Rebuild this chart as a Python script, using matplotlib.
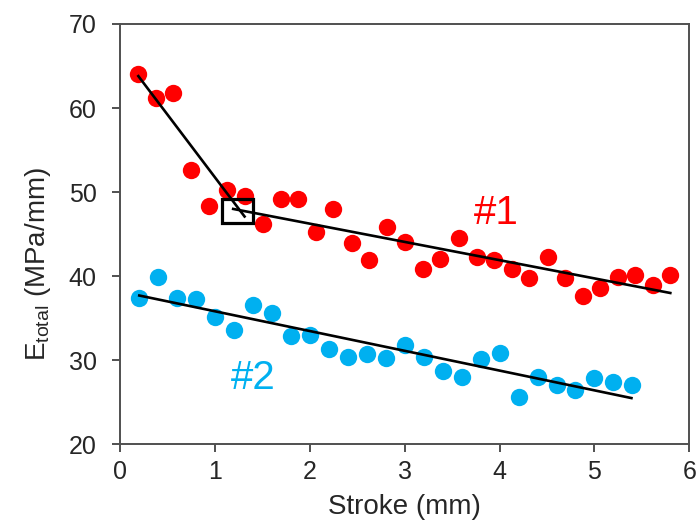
import matplotlib
matplotlib.use('Agg')
import matplotlib.pyplot as plt
from matplotlib.patches import Rectangle

plt.rcParams['font.family'] = ['Liberation Sans', 'DejaVu Sans']
plt.rcParams['mathtext.fontset'] = 'custom'
plt.rcParams['mathtext.rm'] = 'Liberation Sans'

# sample #1 (red)
stroke1 = [0.19, 0.38, 0.56, 0.75, 0.94, 1.13, 1.31, 1.50, 1.69, 1.87, 2.06, 2.24,
           2.44, 2.62, 2.81, 3.00, 3.19, 3.37, 3.57, 3.76, 3.94, 4.13, 4.31, 4.51,
           4.69, 4.88, 5.06, 5.25, 5.43, 5.62, 5.80]
etotal1 = [64.0, 61.2, 61.8, 52.6, 48.4, 50.3, 49.5, 46.2, 49.2, 49.2, 45.2, 48.0,
           44.0, 41.9, 45.8, 44.1, 40.8, 42.0, 44.6, 42.3, 41.9, 40.8, 39.8, 42.3,
           39.8, 37.6, 38.6, 39.9, 40.1, 38.9, 40.1]

# sample #2 (blue)
stroke2 = [0.2, 0.4, 0.6, 0.8, 1.0, 1.2, 1.4, 1.6, 1.8, 2.0, 2.2, 2.4, 2.6, 2.8,
           3.0, 3.2, 3.4, 3.6, 3.8, 4.0, 4.2, 4.4, 4.6, 4.8, 5.0, 5.2, 5.4]
etotal2 = [37.4, 39.9, 37.4, 37.3, 35.2, 33.6, 36.6, 35.6, 32.9, 33.0, 31.3, 30.4,
           30.8, 30.3, 31.8, 30.4, 28.7, 28.0, 30.1, 30.9, 25.6, 28.0, 27.0, 26.5,
           27.9, 27.4, 27.1]

# fitted lines (end points)
fit1a_x, fit1a_y = [0.19, 1.31], [63.8, 47.1]
fit1b_x, fit1b_y = [1.19, 5.80], [48.0, 38.0]
fit2_x, fit2_y = [0.2, 5.39], [37.7, 25.5]

red = '#FF0000'
blue = '#00B0F0'
spine_c = '#505050'
text_c = '#262626'

fig = plt.figure(figsize=(6.98, 5.24), dpi=100)
ax = fig.add_axes([0.1724, 0.1521, 0.8151, 0.8021])

ax.plot(stroke1, etotal1, 'o', color=red, markersize=12.5, markeredgewidth=0, zorder=2)
ax.plot(stroke2, etotal2, 'o', color=blue, markersize=12.5, markeredgewidth=0, zorder=2)

ax.plot(fit1a_x, fit1a_y, color='black', lw=1.9, zorder=3)
ax.plot(fit1b_x, fit1b_y, color='black', lw=1.9, zorder=3)
ax.plot(fit2_x, fit2_y, color='black', lw=1.9, zorder=3)

# box around the intersection
ax.add_patch(Rectangle((1.07, 46.35), 0.33, 2.85, fill=False, edgecolor='black', lw=2.3, zorder=4))

ax.text(3.97, 47.5, '#1', color=red, fontsize=29, ha='center', va='center')
ax.text(1.4, 27.9, '#2', color=blue, fontsize=29, ha='center', va='center')

ax.set_xlim(0, 6)
ax.set_ylim(20, 70)
ax.set_xticks(range(0, 7))
ax.set_yticks(range(20, 71, 10))

for s in ax.spines.values():
    s.set_color(spine_c)
    s.set_linewidth(1.4)
ax.tick_params(axis='both', colors=spine_c, labelcolor=text_c, labelsize=18,
               length=6, width=1.4, direction='out')
ax.tick_params(axis='y', pad=11)
ax.tick_params(axis='x', pad=5)

ax.set_xlabel('Stroke (mm)', fontsize=20, color=text_c)
ax.set_ylabel(r'E$_{\mathrm{total}}$ (MPa/mm)', fontsize=20, color=text_c)
ax.xaxis.set_label_coords(0.5, -0.118)
ax.yaxis.set_label_coords(-0.118, 0.43)

fig.savefig('out.png', dpi=100)
